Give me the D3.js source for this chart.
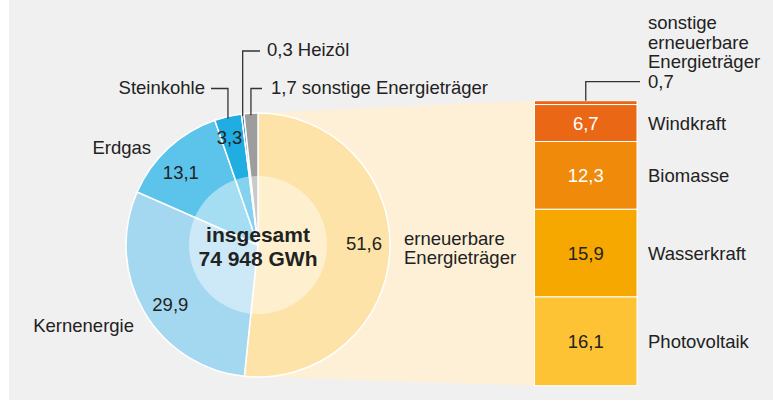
<!DOCTYPE html>
<html>
<head>
<meta charset="utf-8">
<script src="https://cdn.jsdelivr.net/npm/d3@7"></script>
<style>
  body { margin: 0; background: #fff; }
  text { font-family: "Liberation Sans", Arial, sans-serif; fill: #222; }
</style>
</head>
<body>
<svg id="chart" width="773" height="403"></svg>
<script>
// Stromerzeugung: Anteile in Prozent
var mixLabels = ["erneuerbare Energieträger", "Kernenergie", "Erdgas", "Steinkohle", "Heizöl", "sonstige Energieträger"];
var mixValues = [51.6, 29.9, 13.1, 3.3, 0.3, 1.7];
var mixColors = ["#fde3a7", "#a4d8f0", "#5cc4ea", "#20ade2", "#0d6c9e", "#9d9d9d"];

// aufgeschlüsselte erneuerbare Energieträger
var renewLabels = ["sonstige erneuerbare Energieträger", "Windkraft", "Biomasse", "Wasserkraft", "Photovoltaik"];
var renewValues = [0.7, 6.7, 12.3, 15.9, 16.1];
var renewColors = ["#e8661a", "#ea6716", "#f08a0b", "#f6a800", "#fec334"];
var renewTextColors = ["#fff", "#fff", "#fff", "#222", "#222"];

var totalLines = ["insgesamt", "74 948 GWh"];

var de = d3.formatLocale({decimal: ",", thousands: " ", grouping: [3], currency: ["", " €"]});
var fmt = de.format(".1f");

var svg = d3.select("#chart");
svg.append("rect").attr("x", 9).attr("y", 0).attr("width", 764).attr("height", 400).attr("fill", "#f0f0f0");

var cx = 258, cy = 245, R = 132, Rin = 69;

// pie
var pie = d3.pie().sort(null).value(function(d) { return d; })
  .startAngle(0).endAngle(2 * Math.PI);
var arcs = pie(mixValues);
var arc = d3.arc().innerRadius(0).outerRadius(R);

function arcPoint(a, r) {
  return [cx + r * Math.sin(a), cy - r * Math.cos(a)];
}

// bar of renewables
var barX0 = 534.5, barX1 = 637, barTop = 100.7, barBottom = 385.7;
var y = d3.scaleLinear().domain([0, d3.sum(renewValues)]).range([barTop, barBottom]);
var cum = [0];
renewValues.forEach(function(v, i) { cum.push(cum[i] + v); });

// fan between pie and bar
var pTop = arcPoint(arcs[0].startAngle, R);
var pBot = arcPoint(arcs[0].endAngle, R);
svg.append("path")
  .attr("d", d3.line()([pTop, [barX0, y(0)], [barX0, y(cum[cum.length - 1])], pBot]) + "Z")
  .attr("fill", "#fdf0d6");

var g = svg.append("g").attr("transform", "translate(" + cx + "," + cy + ")");
g.selectAll("path.slice").data(arcs).enter().append("path")
  .attr("class", "slice")
  .attr("d", arc)
  .attr("fill", function(d, i) { return mixColors[i]; })
  .attr("stroke", "#fff")
  .attr("stroke-width", 1.5);

g.append("circle").attr("r", Rin).attr("fill", "#fff").attr("fill-opacity", 0.45);

// values inside the pie (the big slices), set a little anticlockwise of the middle
g.selectAll("text.val").data(arcs.slice(0, 4)).enter().append("text")
  .attr("class", "val")
  .attr("transform", function(d, i) {
    var a = (d.startAngle + d.endAngle) / 2 - (i === 3 ? 0.03 : 0.07);
    var r = i === 3 ? 111 : 106;
    return "translate(" + [r * Math.sin(a), -r * Math.cos(a)] + ")";
  })
  .attr("text-anchor", "middle")
  .attr("dy", "0.35em")
  .style("font-size", "18.5px")
  .text(function(d) { return fmt(d.value); });

// total in the centre
g.selectAll("text.total").data(totalLines).enter().append("text")
  .attr("class", "total")
  .attr("text-anchor", "middle")
  .attr("y", function(d, i) { return -3 + i * 23.5; })
  .style("font-size", "21px")
  .style("font-weight", "bold")
  .text(function(d) { return d; });

// outside labels
function addLabel(lines, x, yc, anchor) {
  var t = svg.append("text").attr("text-anchor", anchor).style("font-size", "18.5px");
  lines.forEach(function(l, i) {
    t.append("tspan").attr("x", x).attr("y", yc + (i - (lines.length - 1) / 2) * 19.5)
      .attr("dy", "0.35em").text(l);
  });
}
addLabel(["erneuerbare", "Energieträger"], 404, 248, "start");
addLabel([mixLabels[1]], 134, 326, "end");
addLabel([mixLabels[2]], 151, 148, "end");

// leader lines for the thin slices
function leader(pts) {
  svg.append("path").attr("d", d3.line()(pts))
    .attr("fill", "none").attr("stroke", "#333").attr("stroke-width", 1.3);
}
var midA = function(d) { return (d.startAngle + d.endAngle) / 2; };

var sk = arcs[3], sx = arcPoint(midA(sk), R)[0];
leader([[211, 88.5], [sx, 88.5], [sx, arcPoint(midA(sk), R - 2)[1]]]);
addLabel([mixLabels[3]], 205, 88, "end");

var hz = arcs[4], hx = arcPoint(midA(hz), R)[0];
leader([[260, 51], [hx, 51], [hx, arcPoint(midA(hz), R - 2)[1]]]);
addLabel([fmt(mixValues[4]) + " " + mixLabels[4]], 267, 50, "start");

var so = arcs[5], ox = arcPoint(midA(so), R)[0];
leader([[262, 88.5], [ox, 88.5], [ox, arcPoint(midA(so), R - 2)[1]]]);
addLabel([fmt(mixValues[5]) + " " + mixLabels[5]], 271, 88, "start");

// bar segments
var bar = svg.append("g");
bar.selectAll("rect").data(renewValues).enter().append("rect")
  .attr("x", barX0)
  .attr("y", function(d, i) { return y(cum[i]); })
  .attr("width", barX1 - barX0)
  .attr("height", function(d, i) { return y(cum[i + 1]) - y(cum[i]); })
  .attr("fill", function(d, i) { return renewColors[i]; })
  .attr("stroke", "#fff")
  .attr("stroke-width", 1);

var bx = (barX0 + barX1) / 2;
renewValues.forEach(function(v, i) {
  if (i === 0) return;
  var yc = (y(cum[i]) + y(cum[i + 1])) / 2;
  svg.append("text").attr("x", bx).attr("y", yc).attr("dy", "0.35em")
    .attr("text-anchor", "middle").style("font-size", "18.5px")
    .style("fill", renewTextColors[i]).text(fmt(v));
  addLabel([renewLabels[i]], barX1 + 11, yc, "start");
});

// callout for the smallest renewable segment
leader([[bx, y(0)], [bx, 81.7], [640, 81.7]]);
var t0 = svg.append("text").style("font-size", "18.5px");
["sonstige", "erneuerbare", "Energieträger", fmt(renewValues[0])].forEach(function(l, i) {
  t0.append("tspan").attr("x", 648).attr("y", 22.5 + i * 19.7).attr("dy", "0.35em").text(l);
});
</script>
</body>
</html>
